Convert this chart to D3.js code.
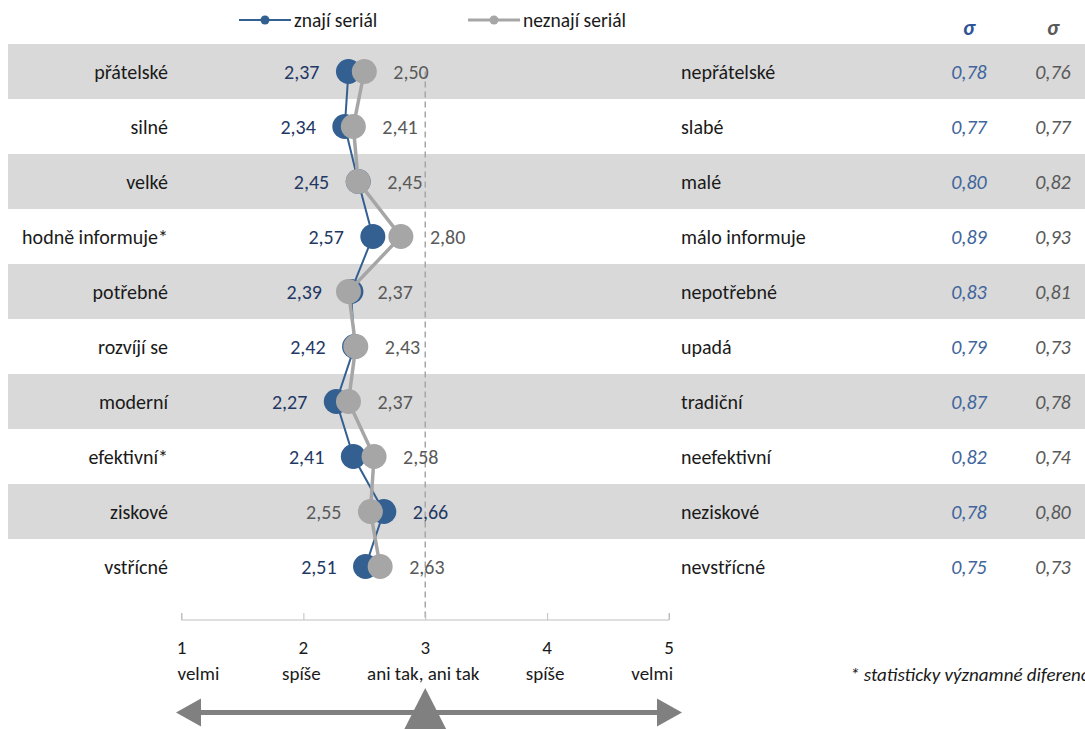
<!DOCTYPE html>
<html lang="cs">
<head>
<meta charset="utf-8">
<script src="https://cdn.jsdelivr.net/npm/d3@7"></script>
<style>
  html, body { margin: 0; padding: 0; background: #fff; }
  svg { display: block; font-family: Carlito, Calibri, "Open Sans", sans-serif; }
</style>
</head>
<body>
<svg id="chart" width="1085" height="729"></svg>
<script>
// Semantic differential: attribute pairs (left pole / right pole)
const leftPoles = ["přátelské", "silné", "velké", "hodně informuje*", "potřebné",
                   "rozvíjí se", "moderní", "efektivní*", "ziskové", "vstřícné"];
const rightPoles = ["nepřátelské", "slabé", "malé", "málo informuje", "nepotřebné",
                    "upadá", "tradiční", "neefektivní", "neziskové", "nevstřícné"];

// Mean ratings on the 1–5 scale
const znajiSerial = [2.37, 2.34, 2.45, 2.57, 2.39, 2.42, 2.27, 2.41, 2.66, 2.51];
const neznajiSerial = [2.50, 2.41, 2.45, 2.80, 2.37, 2.43, 2.37, 2.58, 2.55, 2.63];

// Standard deviations
const sigmaZnaji = [0.78, 0.77, 0.80, 0.89, 0.83, 0.79, 0.87, 0.82, 0.78, 0.75];
const sigmaNeznaji = [0.76, 0.77, 0.82, 0.93, 0.81, 0.73, 0.78, 0.74, 0.80, 0.73];

// Scale ticks and their verbal anchors
const scaleTicks = [1, 2, 3, 4, 5];
const scaleWords = ["velmi", "spíše", "ani tak, ani tak", "spíše", "velmi"];

const seriesNames = ["znají seriál", "neznají seriál"];

const C = {
  blue: "#335f91",
  blueLabel: "#1f3864",
  blueSigma: "#41659c",
  gray: "#a6a6a6",
  grayLabel: "#595959",
  band: "#d9d9d9",
  axis: "#bfbfbf",
  arrow: "#808080",
  text: "#1a1a1a"
};
const FS = 20;

const czLocale = d3.formatLocale({ decimal: ",", thousands: " ", grouping: [3], currency: ["", " Kč"] });
const fmt = czLocale.format(".2f");

const svg = d3.select("#chart");

const x = d3.scaleLinear().domain([1, 5]).range([181.5, 669]);
const y = d3.scaleBand().domain(d3.range(leftPoles.length)).range([44, 594]).padding(0);
const yc = i => y(i) + y.bandwidth() / 2;

// Alternating row bands
svg.append("g").selectAll("rect")
  .data(d3.range(leftPoles.length).filter(i => i % 2 === 0))
  .join("rect")
  .attr("x", 8).attr("width", 1085 - 8)
  .attr("y", i => y(i)).attr("height", y.bandwidth())
  .attr("fill", C.band);

// Neutral midpoint reference line
svg.append("line")
  .attr("x1", x(3)).attr("x2", x(3))
  .attr("y1", yc(0)).attr("y2", 620)
  .attr("stroke", C.gray).attr("stroke-width", 1.5)
  .attr("stroke-dasharray", "6,4");

// Bottom axis with upward ticks
const axisG = svg.append("g").attr("transform", "translate(0,620)");
axisG.call(d3.axisTop(x).tickValues(scaleTicks).tickSize(7).tickFormat(""));
axisG.select(".domain").attr("stroke", C.axis).attr("d", `M${x(1)},-7V0H${x(5)}V-7`);
axisG.selectAll(".tick line").attr("stroke", C.axis);

// Tick numbers and verbal anchors
svg.append("g").selectAll("text")
  .data(scaleTicks)
  .join("text")
  .attr("x", d => x(d)).attr("y", 654)
  .attr("text-anchor", "middle")
  .attr("font-size", FS - 1).attr("fill", C.text)
  .text(d => d);

svg.append("g").selectAll("text")
  .data(scaleWords)
  .join("text")
  .attr("x", (d, i) => i === 0 ? x(scaleTicks[i]) - 4 : i === 4 ? x(scaleTicks[i]) + 4 : x(scaleTicks[i]) - 2)
  .attr("y", 680)
  .attr("text-anchor", (d, i) => i === 0 ? "start" : i === 4 ? "end" : "middle")
  .attr("font-size", FS - 1).attr("fill", C.text)
  .text(d => d);

// Double-headed arrow with a central marker
const arrowG = svg.append("g").attr("fill", C.arrow);
const ay = 712.5, aL = 176, aR = 682, head = 25, hh = 14;
arrowG.append("rect").attr("x", aL + head - 2).attr("y", ay - 2.5)
  .attr("width", aR - aL - 2 * head + 4).attr("height", 5);
arrowG.append("path").attr("d", `M${aL},${ay}L${aL + head},${ay - hh}L${aL + head},${ay + hh}Z`);
arrowG.append("path").attr("d", `M${aR},${ay}L${aR - head},${ay - hh}L${aR - head},${ay + hh}Z`);
arrowG.append("path").attr("d", `M${x(3)},688L${x(3) + 29},745L${x(3) - 29},745Z`);

// Pole labels
svg.append("g").selectAll("text")
  .data(leftPoles)
  .join("text")
  .attr("x", 168).attr("y", (d, i) => yc(i))
  .attr("dy", "0.35em").attr("text-anchor", "end")
  .attr("font-size", FS).attr("fill", C.text)
  .text(d => d);

svg.append("g").selectAll("text")
  .data(rightPoles)
  .join("text")
  .attr("x", 681).attr("y", (d, i) => yc(i))
  .attr("dy", "0.35em").attr("text-anchor", "start")
  .attr("font-size", FS).attr("fill", C.text)
  .text(d => d);

// Series lines and markers (second series drawn on top)
const line = d3.line().x(d => x(d)).y((d, i) => yc(i));
const series = [
  { values: znajiSerial, color: C.blue, width: 2 },
  { values: neznajiSerial, color: C.gray, width: 3.5 }
];
series.forEach(s => {
  svg.append("path").datum(s.values)
    .attr("d", line).attr("fill", "none")
    .attr("stroke", s.color).attr("stroke-width", s.width);
  svg.append("g").selectAll("circle")
    .data(s.values)
    .join("circle")
    .attr("cx", d => x(d)).attr("cy", (d, i) => yc(i))
    .attr("r", 12.5).attr("fill", s.color);
});

// Value labels: the clearly higher mean sits on the right
const off = 29;
leftPoles.forEach((_, i) => {
  const b = znajiSerial[i], g = neznajiSerial[i];
  const blueRight = b - g > 0.05;
  const labels = [
    { v: b, color: C.blueLabel, right: blueRight },
    { v: g, color: C.grayLabel, right: !blueRight }
  ];
  labels.forEach(l => {
    svg.append("text")
      .attr("x", l.right ? x(l.v) + off : x(l.v) - off)
      .attr("y", yc(i)).attr("dy", "0.35em")
      .attr("text-anchor", l.right ? "start" : "end")
      .attr("font-size", FS).attr("fill", l.color)
      .text(fmt(l.v));
  });
});

// Standard deviation columns
const sigmaCols = [
  { values: sigmaZnaji, x: 969, color: C.blueSigma, head: "#2f5597" },
  { values: sigmaNeznaji, x: 1053, color: C.grayLabel, head: C.grayLabel }
];
sigmaCols.forEach(col => {
  svg.append("text")
    .attr("x", col.x).attr("y", 27).attr("dy", "0.35em")
    .attr("text-anchor", "middle").attr("font-size", FS + 2)
    .attr("font-weight", "bold").attr("font-style", "italic")
    .attr("fill", col.head).text("σ");
  svg.append("g").selectAll("text")
    .data(col.values)
    .join("text")
    .attr("x", col.x).attr("y", (d, i) => yc(i)).attr("dy", "0.35em")
    .attr("text-anchor", "middle").attr("font-size", FS)
    .attr("font-style", "italic").attr("fill", col.color)
    .text(d => fmt(d));
});

// Legend
const legend = svg.append("g");
[{ x0: 239, color: C.blue, w: 2 }, { x0: 468, color: C.gray, w: 3 }].forEach((l, i) => {
  legend.append("line")
    .attr("x1", l.x0).attr("x2", l.x0 + 52).attr("y1", 20).attr("y2", 20)
    .attr("stroke", l.color).attr("stroke-width", l.w);
  legend.append("circle")
    .attr("cx", l.x0 + 26).attr("cy", 20).attr("r", 4.5).attr("fill", l.color);
  legend.append("text")
    .attr("x", l.x0 + 55).attr("y", 20).attr("dy", "0.35em")
    .attr("font-size", FS - 0.5).attr("fill", C.text)
    .text(seriesNames[i]);
});

// Footnote
svg.append("text")
  .attr("x", 850).attr("y", 681)
  .attr("font-size", FS - 1).attr("font-style", "italic").attr("fill", C.text)
  .text("* statisticky významné diference");
</script>
</body>
</html>
